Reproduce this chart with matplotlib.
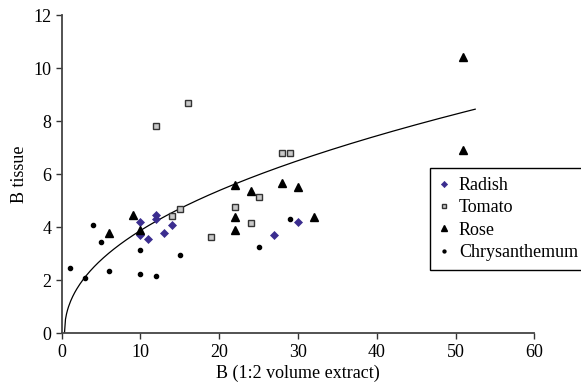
import matplotlib
matplotlib.use('Agg')
import matplotlib.pyplot as plt
import numpy as np

plt.rcParams['font.family'] = ['Liberation Serif', 'DejaVu Serif']

# data
radish_x = [10, 10, 11, 12, 12, 13, 14, 27, 30]
radish_y = [4.2, 3.7, 3.55, 4.45, 4.3, 3.8, 4.1, 3.7, 4.2]

tomato_x = [12, 16, 14, 15, 19, 22, 24, 25, 28, 29]
tomato_y = [7.8, 8.7, 4.43, 4.7, 3.65, 4.75, 4.15, 5.15, 6.8, 6.8]

rose_x = [6, 9, 10, 22, 22, 22, 24, 28, 30, 32, 51, 51]
rose_y = [3.8, 4.45, 3.88, 5.6, 4.4, 3.9, 5.35, 5.65, 5.5, 4.4, 10.4, 6.9]

chrys_x = [1, 3, 4, 5, 6, 10, 10, 12, 15, 25, 29]
chrys_y = [2.45, 2.1, 4.1, 3.45, 2.35, 3.15, 2.25, 2.15, 2.95, 3.25, 4.3]

# power trend line y = a * (x - x0) ** b
trend_a, trend_b, trend_x0 = 1.36, 0.462, 0.35
trend_xmax = 52.5

x_ticks = [0, 10, 20, 30, 40, 50, 60]
y_ticks = [0, 2, 4, 6, 8, 10, 12]

fig = plt.figure(figsize=(5.81, 3.86), dpi=100)
ax = fig.add_axes([0.1062, 0.1365, 0.8134, 0.8245])

xs = np.linspace(trend_x0, trend_xmax, 400)
ax.plot(xs, trend_a * (xs - trend_x0) ** trend_b, color='black', lw=0.9, zorder=1)

ax.plot(radish_x, radish_y, 'D', color='#3b2d8f', markersize=4.5,
        markeredgewidth=0.5, markeredgecolor='#3b2d8f', label='Radish', zorder=3)
ax.plot(tomato_x, tomato_y, 's', markerfacecolor='#c8c8c8', markeredgecolor='#333333',
        markersize=5, markeredgewidth=1.0, label='Tomato', zorder=3)
ax.plot(rose_x, rose_y, '^', color='black', markersize=6, label='Rose', zorder=3)
ax.plot(chrys_x, chrys_y, 'o', color='black', markersize=3, label='Chrysanthemum', zorder=3)

ax.set_xlim(0, 60)
ax.set_ylim(0, 12)
ax.set_xticks(x_ticks)
ax.set_yticks(y_ticks)
ax.tick_params(direction='out', length=4, width=1, colors='#333333',
               labelsize=13, labelcolor='black')
for s in ['top', 'right']:
    ax.spines[s].set_visible(False)
for s in ['left', 'bottom']:
    ax.spines[s].set_color('#444444')
    ax.spines[s].set_linewidth(1.3)

ax.set_xlabel('B (1:2 volume extract)', fontsize=13, labelpad=3)
ax.set_ylabel('B tissue', fontsize=13, labelpad=4)

leg = fig.legend(loc='upper left', bbox_to_anchor=(0.740, 0.565), fontsize=13,
                 frameon=True, fancybox=False, edgecolor='black', framealpha=1,
                 handlelength=0.6, handletextpad=0.5, borderpad=0.5,
                 labelspacing=0.3, markerscale=0.7, borderaxespad=0)
leg.get_frame().set_linewidth(1.0)

fig.savefig('out.png', dpi=100)
